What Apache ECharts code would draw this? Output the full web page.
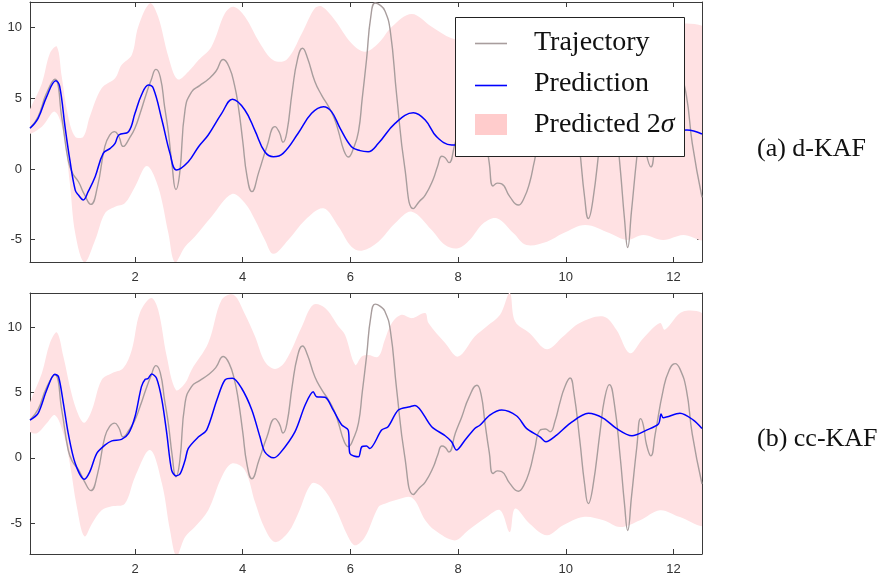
<!DOCTYPE html>
<html><head><meta charset="utf-8">
<script src="https://cdn.jsdelivr.net/npm/echarts@6/dist/echarts.min.js"></script>
<style>html,body{margin:0;padding:0;background:#fff}#c{width:885px;height:581px}</style>
</head><body><div id="c"></div>
<script>
// ---------- data ----------
const xTicks = [2, 4, 6, 8, 10, 12];
const yTicks = [-5, 0, 5, 10];

const trajX = [0.05,0.2,0.35,0.51,0.64,0.76,0.84,0.95,1.06,1.18,1.3,1.44,1.53,1.62,1.7,1.78,1.9,2.0,2.1,2.2,2.3,2.39,2.47,2.55,2.62,2.69,2.76,2.83,2.93,3.05,3.2,3.36,3.5,3.64,3.75,3.85,3.92,4.0,4.08,4.17,4.3,4.45,4.6,4.68,4.75,4.82,4.92,5.02,5.11,5.2,5.34,5.47,5.59,5.7,5.78,5.88,5.96,6.06,6.15,6.22,6.3,6.38,6.46,6.55,6.64,6.74,6.86,7.01,7.17,7.28,7.39,7.54,7.62,7.7,7.76,7.83,7.95,8.07,8.2,8.35,8.43,8.5,8.58,8.65,8.73,8.81,8.96,9.12,9.22,9.33,9.42,9.52,9.62,9.71,9.8,9.89,9.98,10.08,10.15,10.26,10.35,10.42,10.5,10.64,10.72,10.81,10.9,11.01,11.09,11.15,11.22,11.32,11.39,11.44,11.5,11.58,11.66,11.81,11.92,12.03,12.12,12.24,12.35,12.53];
const trajY = [2.9,3.7,5.3,6.35,3.65,0.6,-0.3,-0.9,-1.8,-2.5,-1.3,1.6,2.4,2.65,2.3,1.6,2.2,2.9,4.0,5.2,6.3,7.05,6.5,4.4,2.6,0.2,-1.45,-0.3,4.2,5.45,5.9,6.35,6.9,7.75,7.2,5.9,4.4,2.0,-0.5,-1.6,-0.2,1.6,3.0,2.6,1.9,2.6,5.5,7.8,8.55,7.9,6.2,5.2,4.45,3.6,2.65,1.3,0.85,1.5,2.65,5.0,7.75,10.8,11.75,11.6,11.2,9.8,5.2,0.1,-2.8,-2.3,-1.85,-0.7,0.2,0.9,0.8,0.45,1.9,3.15,4.6,5.55,4.8,2.65,0.4,-1.2,-1.0,-1.05,-1.95,-2.55,-2.1,-0.95,0.6,2.1,2.2,2.0,2.8,4.2,5.4,6.1,5.0,1.35,-2.0,-3.5,-2.3,2.1,4.5,5.6,4.2,0.1,-3.5,-5.55,-3.0,0.85,3.0,2.5,1.0,0.15,1.8,5.2,6.7,7.2,6.8,5.2,1.8,-2.0];

// (a) d-KAF
const predAX = [0.05,0.2,0.36,0.53,0.6,0.7,0.79,0.89,0.95,1.04,1.13,1.26,1.41,1.54,1.63,1.70,1.88,2.0,2.12,2.25,2.34,2.5,2.65,2.77,2.99,3.18,3.36,3.61,3.81,4.04,4.23,4.41,4.57,4.75,5.03,5.28,5.5,5.65,5.81,6.02,6.18,6.33,6.52,6.83,7.17,7.39,7.6,7.88,8.2,8.6,9.0,9.4,9.8,10.2,10.6,11.0,11.4,11.8,12.25,12.53];
const predAY = [2.88,3.59,5.12,6.25,5.87,3.0,0.64,-1.49,-1.84,-2.19,-1.6,-0.54,1.11,1.46,1.82,2.41,2.64,3.94,5.24,5.94,5.71,3.47,1.11,-0.07,0.52,1.58,2.41,3.94,4.93,4.18,2.7,1.22,0.87,1.11,2.53,3.94,4.41,4.06,2.88,1.58,1.30,1.22,1.82,3.23,3.98,3.47,2.29,1.70,1.7,2.3,2.8,2.2,1.9,2.6,3.0,2.4,2.1,2.6,2.76,2.48];
const bandAUpX = [0.0,0.27,0.42,0.55,0.64,0.76,0.89,1.04,1.16,1.38,1.63,1.75,1.94,2.06,2.28,2.43,2.62,2.79,2.99,3.18,3.42,3.67,3.83,4.04,4.32,4.57,4.82,5.1,5.34,5.47,5.71,6.02,6.27,6.52,6.77,7.14,7.51,7.88,8.3,8.8,9.3,9.8,10.3,10.8,11.3,11.8,12.25,12.6];
const bandAUpY = [3.7,6.06,8.19,8.66,6.53,3.70,2.29,2.29,3.70,5.71,6.42,7.36,8.07,10.07,11.73,10.78,7.95,6.35,6.89,7.71,8.66,11.02,11.49,10.8,8.9,7.7,7.75,9.6,11.37,11.5,10.55,8.9,8.3,8.9,10.07,10.97,10.07,9.25,9.0,9.4,9.0,9.3,9.6,9.2,9.5,10.0,10.3,9.8];
const bandALoX = [0.0,0.27,0.51,0.67,0.79,0.89,1.06,1.26,1.44,1.63,1.81,2.0,2.22,2.43,2.62,2.74,2.93,3.11,3.42,3.8,4.04,4.23,4.41,4.57,4.85,5.16,5.5,5.78,6.02,6.21,6.52,6.83,7.14,7.51,7.76,8.0,8.22,8.47,8.72,9.03,9.27,9.65,9.95,10.36,10.82,11.13,11.44,11.81,12.18,12.6];
const bandALoY = [2.5,3.0,4.06,2.53,-1.0,-4.55,-6.6,-5.02,-3.14,-2.67,-2.43,-1.25,0.21,-1.25,-4.55,-6.6,-5.5,-4.79,-3.38,-1.77,-2.4,-3.6,-5.0,-6.0,-5.0,-3.6,-2.78,-4.08,-5.5,-5.78,-5.14,-3.84,-3.02,-4.32,-5.38,-5.6,-5.0,-3.84,-3.49,-4.55,-5.38,-5.14,-4.55,-3.96,-4.55,-5.02,-4.67,-5.02,-4.67,-4.9];

// (b) cc-KAF
const predBX = [0.05,0.2,0.36,0.51,0.58,0.67,0.76,0.89,1.06,1.16,1.29,1.44,1.57,1.75,1.88,2.0,2.12,2.19,2.24,2.31,2.4,2.5,2.59,2.68,2.76,2.84,2.93,2.99,3.18,3.33,3.52,3.67,3.81,3.98,4.17,4.32,4.41,4.57,4.69,4.97,5.16,5.31,5.37,5.53,5.68,5.84,5.96,5.99,6.15,6.21,6.30,6.36,6.58,6.7,6.89,7.11,7.2,7.51,7.76,7.88,7.97,8.13,8.31,8.41,8.59,8.81,9.09,9.27,9.52,9.63,9.83,10.08,10.42,10.7,10.94,11.23,11.5,11.72,11.77,11.81,12.12,12.37,12.53];
const predBY = [2.89,3.4,5.19,6.39,6.2,4.17,1.87,-0.43,-1.63,-1.07,0.34,0.97,1.3,1.41,1.87,3.14,5.44,6.0,6.05,6.41,6.08,4.42,1.87,-0.94,-1.38,-1.2,-0.18,0.72,1.61,2.12,4.42,5.95,6.08,5.32,3.66,1.61,0.46,0.0,0.34,1.99,4.04,5.06,4.67,4.63,3.66,2.51,2.12,0.34,0.08,0.84,0.9,0.72,2.12,2.38,3.66,3.91,4.0,2.38,1.69,1.23,0.59,1.36,2.25,2.51,3.27,3.66,3.2,2.25,1.61,1.23,1.74,2.64,3.4,3.02,2.25,1.69,2.12,2.58,3.35,3.07,3.4,2.89,2.25];
const bandBUpX = [0.0,0.27,0.42,0.55,0.67,0.82,0.95,1.06,1.2,1.38,1.57,1.78,1.94,2.09,2.3,2.43,2.59,2.76,2.93,3.05,3.36,3.61,3.83,4.04,4.23,4.41,4.6,4.79,5.1,5.31,5.53,5.78,5.9,6.09,6.21,6.33,6.52,6.64,6.77,6.95,7.14,7.39,7.45,7.76,8.0,8.31,8.53,8.78,8.96,9.06,9.33,9.65,9.95,10.26,10.7,10.94,11.19,11.44,11.75,11.84,12.18,12.6];
const bandBUpY = [3.6,6.47,8.77,9.58,7.74,4.93,3.27,2.68,3.66,5.95,6.47,6.85,8.25,11.07,12.21,11.32,7.74,5.19,5.7,6.72,8.77,12.08,12.47,11.0,9.27,7.36,6.8,7.36,10.04,11.7,11.45,10.04,9.4,7.1,7.74,7.87,7.74,9.02,10.3,10.93,10.68,11.07,10.3,8.77,7.74,9.27,10.04,10.93,12.6,10.42,9.53,8.3,9.27,10.3,10.8,9.79,8.0,9.15,10.3,9.8,11.19,10.68];
const bandBLoX = [0.0,0.17,0.36,0.51,0.67,0.79,0.92,1.06,1.2,1.38,1.57,1.81,2.0,2.28,2.5,2.65,2.77,2.93,3.11,3.36,3.61,3.8,4.04,4.23,4.41,4.6,4.85,5.03,5.28,5.47,5.71,5.96,6.09,6.27,6.52,6.64,6.83,7.14,7.39,7.57,7.94,8.19,8.53,8.78,8.96,9.06,9.33,9.65,9.95,10.32,10.7,11.01,11.38,11.75,12.12,12.6];
const bandBLoY = [2.2,1.87,2.64,3.27,1.87,-0.43,-3.75,-6.0,-5.03,-4.0,-3.7,-3.5,-1.46,0.59,-1.96,-5.54,-7.5,-6.05,-5.29,-4.0,-1.46,-0.43,-0.94,-3.4,-5.41,-6.44,-5.67,-4.26,-1.96,-2.22,-3.75,-6.05,-6.69,-6.05,-3.75,-3.5,-3.24,-3.04,-4.77,-5.54,-6.31,-5.54,-4.52,-4.0,-5.67,-3.88,-5.03,-5.92,-5.16,-4.52,-4.77,-5.29,-4.77,-4.0,-4.52,-5.03];

const panelLabels = ['(a) d-KAF', '(b) cc-KAF'];
const legendNames = ['Trajectory', 'Prediction', 'Predicted 2σ'];

// ---------- styles ----------
const AXIS = '#3a3a3a';
const TRAJ = '#a89d9d';
const PRED = '#0000ff';
const BAND = '#ffe1e3';
const BAND_LEG = '#ffcccc';
const SERIF = '"Liberation Serif", "DejaVu Serif", serif';
const SANS = '"Liberation Sans", Arial, sans-serif';

const zip = (xs, ys) => xs.map((x, i) => [x, ys[i]]);

function xAx(gi, pos, min, max) {
  return {
    type: 'value', gridIndex: gi, position: pos, min: min, max: max,
    axisLine: { show: true, onZero: false, lineStyle: { color: AXIS, width: 1 } },
    axisTick: { show: true, inside: true, length: 5, customValues: xTicks, lineStyle: { color: AXIS } },
    axisLabel: { show: pos === 'bottom', customValues: xTicks, margin: 9, color: '#333', fontSize: 13, fontFamily: SANS },
    splitLine: { show: false }
  };
}
function yAx(gi, pos, min, max) {
  return {
    type: 'value', gridIndex: gi, position: pos, min: min, max: max,
    axisLine: { show: true, onZero: false, lineStyle: { color: AXIS, width: 1 } },
    axisTick: { show: true, inside: true, length: 5, customValues: yTicks, lineStyle: { color: AXIS } },
    axisLabel: { show: pos === 'left', customValues: yTicks, margin: 8, color: '#333', fontSize: 13, fontFamily: SANS },
    splitLine: { show: false }
  };
}

function bandSeries(xi, yi, upX, upY, loX, loY) {
  return {
    type: 'custom', name: legendNames[2], xAxisIndex: xi, yAxisIndex: yi,
    silent: true, z: 1, data: [[upX[0], upY[0]]],
    renderItem: function (params, api) {
      const pts = [];
      for (let i = 0; i < upX.length; i++) pts.push(api.coord([upX[i], upY[i]]));
      for (let i = loX.length - 1; i >= 0; i--) pts.push(api.coord([loX[i], loY[i]]));
      const cs = params.coordSys;
      return {
        type: 'polygon',
        shape: { points: pts, smooth: 0.35 },
        style: { fill: BAND },
        clipPath: { type: 'rect', shape: { x: cs.x, y: cs.y, width: cs.width, height: cs.height } }
      };
    }
  };
}
function lineSeries(name, xi, yi, xs, ys, color, width, smooth, z) {
  return {
    type: 'line', name: name, xAxisIndex: xi, yAxisIndex: yi, data: zip(xs, ys),
    showSymbol: false, symbol: 'none', smooth: smooth, clip: true, z: z,
    lineStyle: { color: color, width: width }, silent: true
  };
}

const XMIN = 0.05, XMAX = 12.53;
const option = {
  animation: false,
  backgroundColor: '#fff',
  grid: [
    { left: 30, top: 2, width: 672, height: 260 },
    { left: 30, top: 293, width: 672, height: 261 }
  ],
  xAxis: [
    xAx(0, 'bottom', XMIN, XMAX), xAx(0, 'top', XMIN, XMAX),
    xAx(1, 'bottom', XMIN, XMAX), xAx(1, 'top', XMIN, XMAX)
  ],
  yAxis: [
    yAx(0, 'left', -6.58, 11.82), yAx(0, 'right', -6.58, 11.82),
    yAx(1, 'left', -7.35, 12.6), yAx(1, 'right', -7.35, 12.6)
  ],
  series: [
    bandSeries(0, 0, bandAUpX, bandAUpY, bandALoX, bandALoY),
    lineSeries(legendNames[0], 0, 0, trajX, trajY, TRAJ, 1.4, 0.5, 3),
    lineSeries(legendNames[1], 0, 0, predAX, predAY, PRED, 1.5, 0.4, 4),
    bandSeries(2, 2, bandBUpX, bandBUpY, bandBLoX, bandBLoY),
    lineSeries(legendNames[0], 2, 2, trajX, trajY, TRAJ, 1.4, 0.5, 3),
    lineSeries(legendNames[1], 2, 2, predBX, predBY, PRED, 1.5, 0.3, 4)
  ],
  graphic: [
    { type: 'text', left: 757, top: 136, z: 100, style: { text: panelLabels[0], font: '26px ' + SERIF, fill: '#111' } },
    { type: 'text', left: 757, top: 426, z: 100, style: { text: panelLabels[1], font: '26px ' + SERIF, fill: '#111' } },
    { type: 'rect', z: 100, shape: { x: 455.5, y: 17.5, width: 229, height: 139 }, style: { fill: '#fff', stroke: '#222', lineWidth: 1 } },
    { type: 'line', z: 101, shape: { x1: 475, y1: 43.5, x2: 507, y2: 43.5 }, style: { stroke: TRAJ, lineWidth: 1.6 } },
    { type: 'line', z: 101, shape: { x1: 475, y1: 85.5, x2: 507, y2: 85.5 }, style: { stroke: PRED, lineWidth: 1.6 } },
    { type: 'rect', z: 101, shape: { x: 475, y: 114, width: 32, height: 21 }, style: { fill: BAND_LEG } },
    { type: 'text', z: 101, x: 534, y: 43, style: { text: legendNames[0], font: '28px ' + SERIF, fill: '#111', verticalAlign: 'middle' } },
    { type: 'text', z: 101, x: 534, y: 84, style: { text: legendNames[1], font: '28px ' + SERIF, fill: '#111', verticalAlign: 'middle' } },
    { type: 'text', z: 101, x: 534, y: 125, style: { text: 'Predicted 2{i|σ}', font: '28px ' + SERIF, fill: '#111', verticalAlign: 'middle',
        rich: { i: { fontStyle: 'italic', fontSize: 28, fontFamily: SERIF, fill: '#111' } } } }
  ]
};
const chart = echarts.init(document.getElementById('c'), null, { renderer: 'canvas' });
chart.setOption(option);
</script>
</body></html>
